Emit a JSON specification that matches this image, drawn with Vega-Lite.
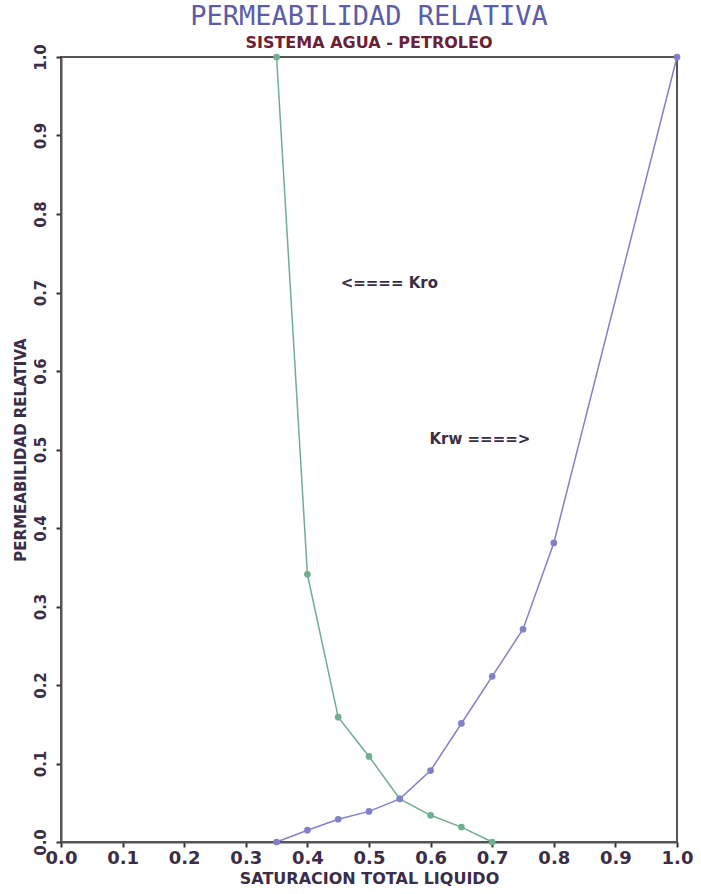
{
  "$schema": "https://vega.github.io/schema/vega-lite/v6.json",
  "width": 616,
  "height": 785,
  "autosize": {"type": "none"},
  "padding": {"left": 61, "top": 57, "right": 24, "bottom": 52},
  "background": "white",
  "config": {
    "view": {"stroke": "#555555", "strokeWidth": 2},
    "font": "DejaVu Sans"
  },
  "title": {
    "text": "PERMEABILIDAD RELATIVA",
    "subtitle": "SISTEMA AGUA - PETROLEO",
    "anchor": "middle",
    "font": "DejaVu Sans Mono",
    "fontSize": 27,
    "fontWeight": "normal",
    "color": "#5b5da8",
    "subtitleFont": "DejaVu Sans",
    "subtitleFontSize": 16,
    "subtitleFontWeight": "bold",
    "subtitleColor": "#6b2035",
    "subtitlePadding": 4,
    "offset": -8
  },
  "datasets": {
    "curves": [
      {"s": 0.35, "k": 1.0, "serie": "Kro"},
      {"s": 0.40, "k": 0.341, "serie": "Kro"},
      {"s": 0.45, "k": 0.159, "serie": "Kro"},
      {"s": 0.50, "k": 0.109, "serie": "Kro"},
      {"s": 0.55, "k": 0.055, "serie": "Kro"},
      {"s": 0.60, "k": 0.034, "serie": "Kro"},
      {"s": 0.65, "k": 0.019, "serie": "Kro"},
      {"s": 0.70, "k": 0.0, "serie": "Kro"},
      {"s": 0.35, "k": 0.0, "serie": "Krw"},
      {"s": 0.40, "k": 0.015, "serie": "Krw"},
      {"s": 0.45, "k": 0.029, "serie": "Krw"},
      {"s": 0.50, "k": 0.039, "serie": "Krw"},
      {"s": 0.55, "k": 0.055, "serie": "Krw"},
      {"s": 0.60, "k": 0.091, "serie": "Krw"},
      {"s": 0.65, "k": 0.151, "serie": "Krw"},
      {"s": 0.70, "k": 0.211, "serie": "Krw"},
      {"s": 0.75, "k": 0.271, "serie": "Krw"},
      {"s": 0.80, "k": 0.381, "serie": "Krw"},
      {"s": 1.00, "k": 1.0, "serie": "Krw"}
    ],
    "labels": [
      {"s": 0.533, "k": 0.712, "t": "<==== Kro"},
      {"s": 0.68, "k": 0.513, "t": "Krw ====>"}
    ]
  },
  "layer": [
    {
      "data": {"name": "curves"},
      "mark": {"type": "line", "strokeWidth": 1.5},
      "encoding": {
        "x": {
          "field": "s", "type": "quantitative",
          "scale": {"domain": [0, 1], "nice": false, "zero": false},
          "axis": {
            "values": [0, 0.1, 0.2, 0.3, 0.4, 0.5, 0.6, 0.7, 0.8, 0.9, 1.0],
            "format": ".1f",
            "grid": false,
            "title": "SATURACION TOTAL LIQUIDO",
            "titleFont": "DejaVu Sans",
            "titleFontSize": 16,
            "titleFontWeight": "bold",
            "titleColor": "#3a2d45",
            "titlePadding": 3,
            "labelFont": "DejaVu Sans",
            "labelFontSize": 18,
            "labelFontWeight": "bold",
            "labelColor": "#3a2d45",
            "labelPadding": 2,
            "labelFlush": false,
            "domainColor": "#555555",
            "domainWidth": 2,
            "tickColor": "#333333",
            "tickWidth": 2,
            "tickSize": 5
          }
        },
        "y": {
          "field": "k", "type": "quantitative",
          "scale": {"domain": [0, 1], "nice": false},
          "axis": {
            "values": [0, 0.1, 0.2, 0.3, 0.4, 0.5, 0.6, 0.7, 0.8, 0.9, 1.0],
            "format": ".1f",
            "grid": false,
            "title": "PERMEABILIDAD RELATIVA",
            "titleFont": "DejaVu Sans",
            "titleFontSize": 15,
            "titleFontWeight": "bold",
            "titleColor": "#3a2d45",
            "titleBaseline": "middle",
            "titleX": -41,
            "labelFont": "DejaVu Sans",
            "labelFontSize": 15,
            "labelFontWeight": "bold",
            "labelColor": "#3a2d45",
            "labelAngle": -90,
            "labelAlign": "center",
            "labelBaseline": "bottom",
            "labelPadding": 8,
            "labelFlush": false,
            "domainColor": "#555555",
            "domainWidth": 2,
            "tickColor": "#333333",
            "tickWidth": 2,
            "tickSize": 5
          }
        },
        "color": {
          "field": "serie", "type": "nominal",
          "scale": {"domain": ["Kro", "Krw"], "range": ["#6fae90", "#8380c8"]},
          "legend": null
        },
        "detail": {"field": "serie"}
      }
    },
    {
      "data": {"name": "curves"},
      "mark": {"type": "point", "filled": true, "size": 45, "opacity": 1},
      "encoding": {
        "x": {"field": "s", "type": "quantitative"},
        "y": {"field": "k", "type": "quantitative"},
        "color": {
          "field": "serie", "type": "nominal",
          "scale": {"domain": ["Kro", "Krw"], "range": ["#3b8a68", "#4a40b5"]},
          "legend": null
        }
      }
    },
    {
      "data": {"name": "labels"},
      "mark": {"type": "text", "font": "DejaVu Sans", "fontSize": 15, "fontWeight": "bold", "color": "#3a2d45", "align": "center", "baseline": "middle"},
      "encoding": {
        "x": {"field": "s", "type": "quantitative"},
        "y": {"field": "k", "type": "quantitative"},
        "text": {"field": "t"}
      }
    }
  ]
}
